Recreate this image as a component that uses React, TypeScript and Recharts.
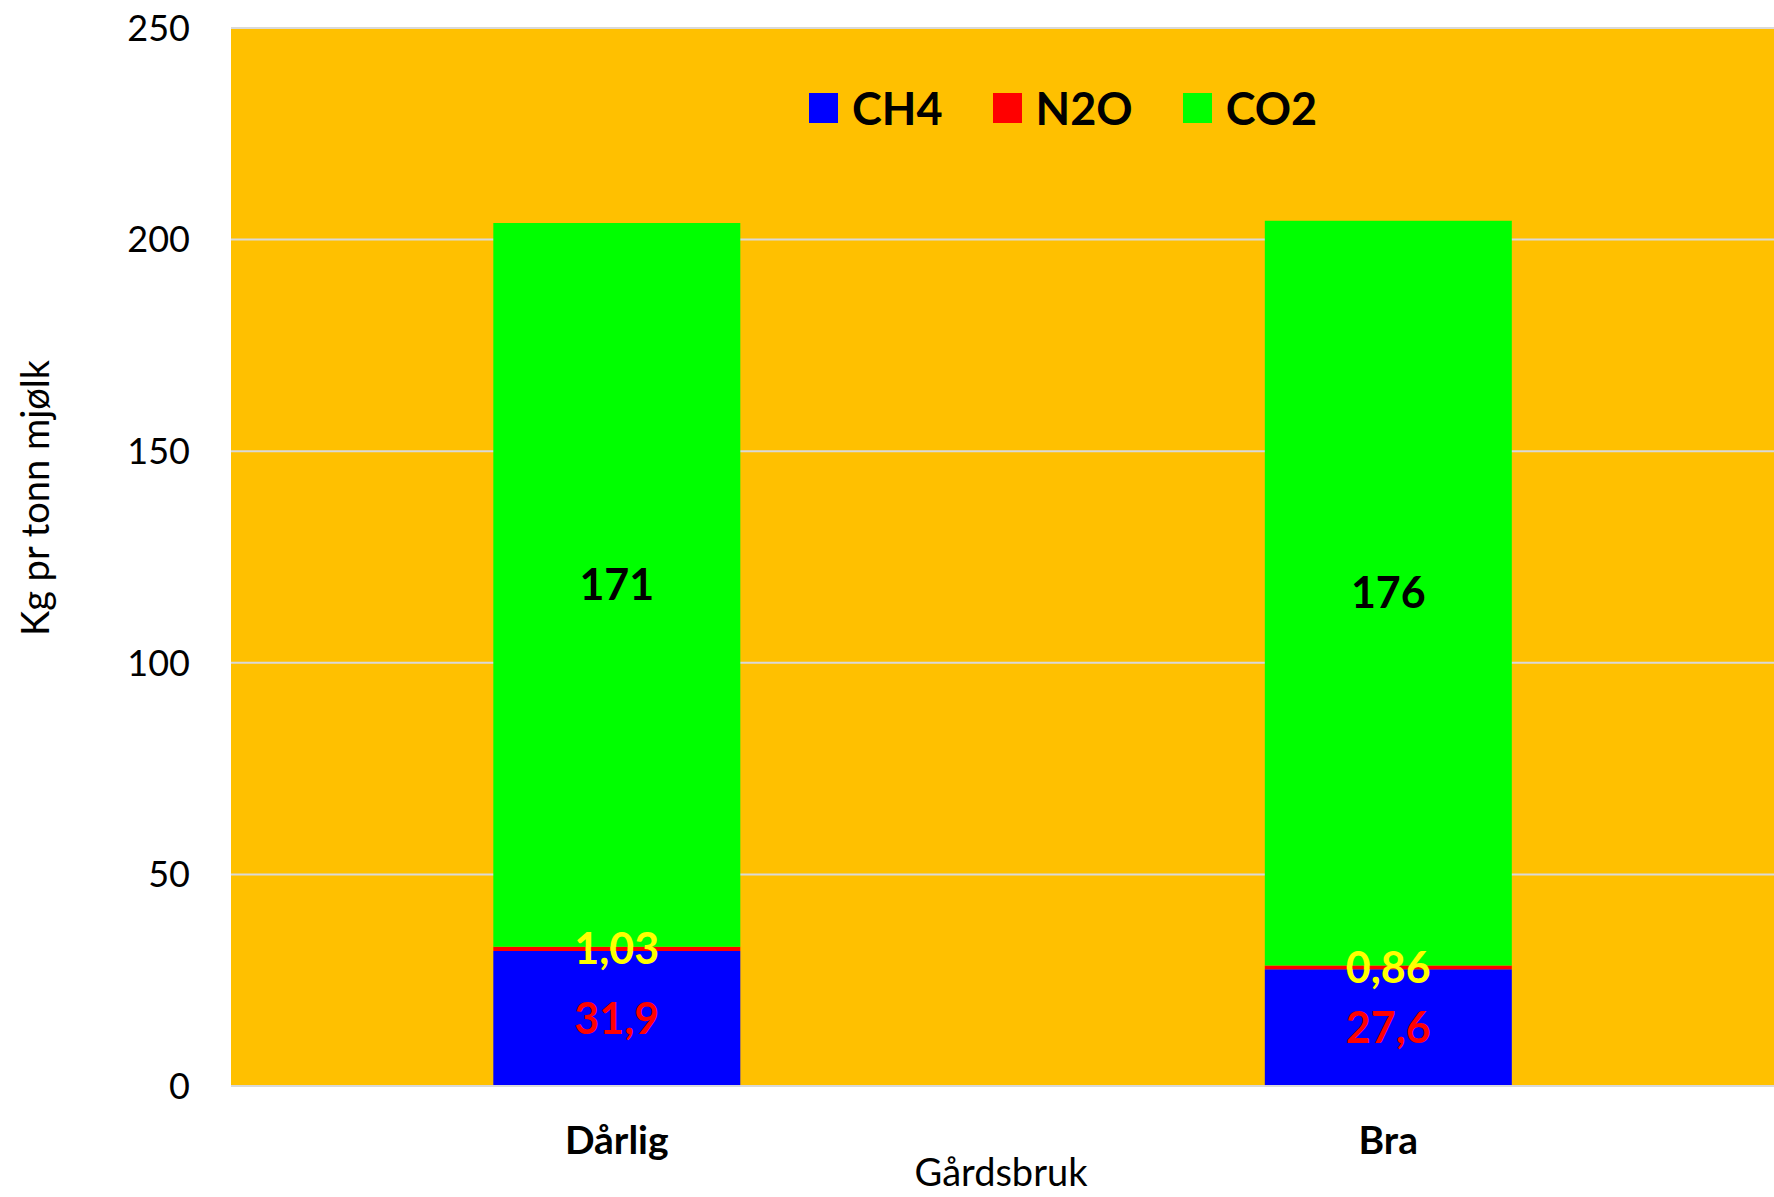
import * as React from "react";
import {
  BarChart,
  Bar,
  XAxis,
  YAxis,
  CartesianGrid,
  Legend,
  LabelList,
} from "recharts";

document.body.style.margin = "0";

const farms = ["Dårlig", "Bra"];
const ch4 = [31.9, 27.6];
const n2o = [1.03, 0.86];
const co2 = [171, 176];
const yTicks = [0, 50, 100, 150, 200, 250];

const FONT = "Lato, 'Open Sans', sans-serif";

const series = [
  { key: "CH4", color: "#0000FF", labelColor: "#FF0000" },
  { key: "N2O", color: "#FF0000", labelColor: "#FFFF00" },
  { key: "CO2", color: "#00FF00", labelColor: "#000000" },
];

const data = farms.map((farm, i) => ({
  farm,
  CH4: ch4[i],
  N2O: n2o[i],
  CO2: co2[i],
}));

const comma = (v: any) => String(v).replace(".", ",");

function LegendBox() {
  return (
    <div style={{ display: "flex", alignItems: "center", fontFamily: FONT }}>
      {series.map((s) => (
        <div
          key={s.key}
          style={{ display: "flex", alignItems: "center", marginRight: 50 }}
        >
          <span
            style={{
              width: 29,
              height: 30,
              background: s.color,
              display: "inline-block",
              marginRight: 14,
            }}
          />
          <span style={{ fontSize: 45, fontWeight: 700, color: "#000" }}>
            {s.key}
          </span>
        </div>
      ))}
    </div>
  );
}

export default function App() {
  return (
    <div style={{ width: 1774, height: 1197, background: "#fff" }}>
      <BarChart
        width={1774}
        height={1197}
        data={data}
        barCategoryGap="34%"
        margin={{ top: 28, right: 0, left: 111, bottom: 51 }}
      >
        <CartesianGrid
          vertical={false}
          stroke="#D9D9D9"
          strokeWidth={2}
          fill="#FFC000"
          fillOpacity={1}
        />
        <XAxis
          dataKey="farm"
          height={60}
          axisLine={{ stroke: "#D9D9D9", strokeWidth: 2 }}
          tickLine={false}
          tickMargin={34}
          tick={{ fontSize: 39, fontWeight: 700, fill: "#000", fontFamily: FONT }}
          label={{
            content: () => (
              <text
                x={1001}
                y={1186}
                textAnchor="middle"
                fontSize={38}
                fontFamily={FONT}
                fill="#000"
              >
                Gårdsbruk
              </text>
            ),
          }}
        />
        <YAxis
          width={120}
          domain={[0, 250]}
          ticks={yTicks}
          axisLine={false}
          tickLine={false}
          tickMargin={35}
          tick={{ fontSize: 36, fill: "#000", fontFamily: FONT }}
          label={{
            content: () => (
              <text
                x={34}
                y={498}
                transform="rotate(-90 34 498)"
                textAnchor="middle"
                dominantBaseline="central"
                fontSize={38}
                fontFamily={FONT}
                fill="#000"
              >
                Kg pr tonn mjølk
              </text>
            ),
          }}
        />
        <Legend
          verticalAlign="middle"
          layout="horizontal"
          content={() => <LegendBox />}
          wrapperStyle={{ position: "absolute", left: 809, top: 81, width: "auto" }}
        />
        {series.map((s) => (
          <Bar
            key={s.key}
            dataKey={s.key}
            stackId="a"
            fill={s.color}
            isAnimationActive={false}
          >
            <LabelList
              dataKey={s.key}
              position="center"
              formatter={comma}
              fill={s.labelColor}
              fontSize={43}
              fontWeight={700}
              fontFamily={FONT}
            />
          </Bar>
        ))}
      </BarChart>
    </div>
  );
}
